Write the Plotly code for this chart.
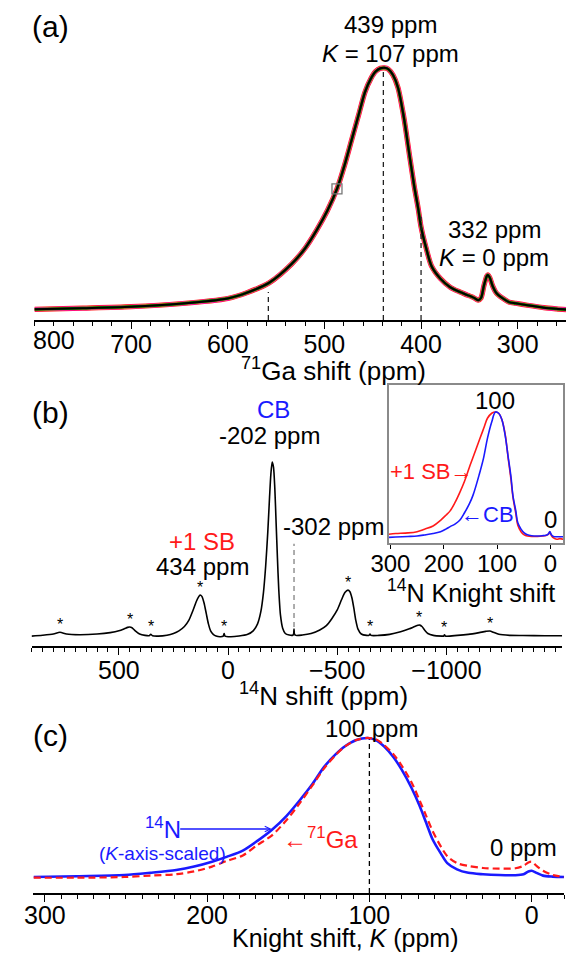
import plotly.graph_objects as go

W, H = 567, 954
FONT = "Liberation Sans, Arial, sans-serif"

# ---------------- Panel (a): 71Ga spectrum ----------------
ga_shift = [800, 750, 700, 650, 600, 580, 557, 534, 520, 508,
            497, 487, 479, 472, 465, 458, 452, 447, 442, 438,
            434, 429, 424, 418, 412, 407, 403, 400, 395, 389,
            380, 370, 360, 352, 345, 341, 338, 335, 332, 331,
            329, 326, 322, 316, 309, 302, 290, 273, 260, 250]
ga_intensity = [0.003, 0.008, 0.014, 0.026, 0.048, 0.072, 0.113, 0.19, 0.255, 0.33,
                0.41, 0.5, 0.6, 0.7, 0.8, 0.9, 0.955, 0.985, 0.998, 1.0,
                0.995, 0.97, 0.92, 0.8, 0.64, 0.51, 0.42, 0.343, 0.26, 0.18,
                0.13, 0.095, 0.075, 0.062, 0.05, 0.041, 0.05, 0.1, 0.14, 0.145,
                0.135, 0.1, 0.07, 0.05, 0.033, 0.028, 0.02, 0.01, 0.005, 0.002]
ga_marks = [558, 439, 400]
ga_mark_tops = [0.075, 1.0, 0.385]
ga_box_shift = [487]
ga_box_int = [0.5]
ga_ticks = [700, 600, 500, 400, 300]

# ---------------- Panel (b): 14N spectrum ----------------
n14_shift = [900, 850, 800, 770, 740, 680, 600, 540, 500, 475,
             460, 451, 440, 425, 405, 380, 362, 354, 346, 320,
             280, 250, 225, 200, 180, 160, 145, 135, 128, 120,
             110, 100, 90, 80, 68, 55, 35, 22, 18, 14,
             -10, -50, -90, -115, -135, -150, -162, -172, -182, -190,
             -196, -202, -208, -214, -220, -226, -232, -240, -250, -262,
             -280, -296, -300, -302, -304, -310, -340, -380, -420, -450,
             -475, -500, -520, -535, -549, -558, -567, -576, -585, -595,
             -610, -635, -645, -650, -655, -690, -740, -790, -830, -855,
             -870, -878, -888, -900, -915, -940, -980, -988, -991, -995,
             -1050, -1100, -1150, -1180, -1199, -1215, -1240, -1290, -1350, -1450,
             -1530]
n14_intensity = [0.0, 0.005, 0.012, 0.022, 0.012, 0.008, 0.012, 0.02, 0.03, 0.042,
                 0.05, 0.052, 0.048, 0.03, 0.012, 0.004, 0.002, 0.01, 0.002, 0.0,
                 0.005, 0.015, 0.03, 0.055, 0.09, 0.15, 0.2, 0.225, 0.236, 0.228,
                 0.19, 0.13, 0.07, 0.03, 0.01, 0.0, -0.004, 0.0, 0.014, 0.0,
                 -0.004, 0.0, 0.01, 0.03, 0.07, 0.14, 0.25, 0.4, 0.6, 0.8,
                 0.93, 1.0, 0.97, 0.85, 0.65, 0.45, 0.27, 0.12, 0.045, 0.015,
                 0.006, 0.005, 0.012, 0.04, 0.012, 0.004, 0.006, 0.015, 0.035, 0.06,
                 0.1, 0.15, 0.21, 0.25, 0.264, 0.255, 0.22, 0.16, 0.09, 0.04,
                 0.012, 0.004, 0.004, 0.012, 0.004, 0.004, 0.01, 0.025, 0.042, 0.055,
                 0.062, 0.063, 0.055, 0.035, 0.015, 0.004, 0.0, 0.0, 0.008, 0.0,
                 0.004, 0.01, 0.02, 0.027, 0.029, 0.022, 0.01, 0.004, 0.003, 0.002,
                 0.002]
n14_star_shift = [770, 451, 354, 128, 18, -549, -650, -876, -991, -1199]
n14_star_int = [0.022, 0.052, 0.01, 0.236, 0.014, 0.264, 0.012, 0.063, 0.008, 0.029]
n14_mark = -302
n14_mark_top = 0.53
n14_ticks = [500, 0, -500, -1000]

# ---------------- Inset: 14N Knight shift ----------------
inset_k = [303, 290, 267, 250, 236, 220, 206, 196, 188, 179,
           170, 161, 152, 145, 133, 125, 118, 110, 103, 97,
           91, 85, 79, 74, 70, 65, 61, 55, 49, 43,
           35, 24, 15, 8, 4, 1, -2, -6, -12, -18,
           -24]
inset_cb = [0.005, 0.008, 0.012, 0.016, 0.024, 0.035, 0.05, 0.07, 0.09, 0.11,
            0.14, 0.2, 0.27, 0.34, 0.51, 0.64, 0.79, 0.92, 1.0, 0.99,
            0.94, 0.82, 0.64, 0.49, 0.33, 0.22, 0.12, 0.07, 0.04, 0.025,
            0.018, 0.016, 0.018, 0.022, 0.03, 0.05, 0.025, 0.012, 0.01, 0.01,
            0.01]
inset_sb = [0.03, 0.035, 0.04, 0.05, 0.07, 0.095, 0.14, 0.18, 0.215, 0.28,
            0.36, 0.45, 0.56, 0.64, 0.78, 0.87, 0.95, 0.99, 1.0, 0.99,
            0.94, 0.83, 0.63, 0.47, 0.32, 0.2, 0.1, 0.05, 0.025, 0.016,
            0.012, 0.012, 0.015, 0.02, 0.028, 0.045, 0.02, 0.0, -0.01, -0.005,
            -0.01]
inset_ticks = [300, 200, 100, 0]

# ---------------- Panel (c): Knight shift comparison ----------------
knight_k = [307, 280, 251, 235, 219, 208, 197, 188, 178, 169,
            160, 151, 143, 135, 128, 121, 115, 108, 101, 96,
            91, 85, 80, 74, 69, 65, 61, 56, 52, 46,
            39, 30, 20, 10, 5, 2, 0, -3, -7, -13,
            -20]
knight_n14 = [0.0, 0.006, 0.014, 0.03, 0.05, 0.075, 0.11, 0.145, 0.19, 0.26,
              0.34, 0.44, 0.55, 0.67, 0.79, 0.88, 0.94, 0.985, 1.0, 0.985,
              0.94, 0.86, 0.77, 0.64, 0.51, 0.39, 0.27, 0.17, 0.1, 0.055,
              0.03, 0.02, 0.014, 0.013, 0.02, 0.04, 0.045, 0.03, 0.01, 0.003,
              0.0]
knight_ga = [-0.005, -0.005, 0.0, 0.01, 0.02, 0.04, 0.075, 0.115, 0.155, 0.23,
             0.3, 0.41, 0.53, 0.66, 0.78, 0.875, 0.94, 0.985, 1.0, 0.99,
             0.95, 0.88, 0.8, 0.68, 0.55, 0.44, 0.33, 0.22, 0.15, 0.1,
             0.08, 0.065, 0.06, 0.063, 0.08, 0.105, 0.11, 0.08, 0.045, 0.015,
             0.0]
knight_mark = 100
knight_ticks = [300, 200, 100, 0]

BLUE = "#1a1aff"
RED = "#ff1a1a"


def px_x(px):
    return px / W


def px_y(py):
    return 1 - py / H


fig = go.Figure()

# Panel (a) traces (overlapping fits)
for color, width in [(RED, 5.2), ("#ff00ff", 4.0), ("#e08000", 3.4), ("#008000", 2.8), ("black", 2.0)]:
    fig.add_trace(go.Scatter(x=ga_shift, y=ga_intensity, mode="lines",
                             line=dict(color=color, width=width, shape="spline", smoothing=0.8),
                             xaxis="x", yaxis="y", showlegend=False, hoverinfo="skip"))
for m, t in zip(ga_marks, ga_mark_tops):
    fig.add_trace(go.Scatter(x=[m, m], y=[-0.041, t], mode="lines",
                             line=dict(color="#222", width=1.3, dash="5px,4px"),
                             xaxis="x", yaxis="y", showlegend=False, hoverinfo="skip"))
fig.add_trace(go.Scatter(x=ga_box_shift, y=ga_box_int, mode="markers",
                         marker=dict(symbol="square-open", size=10, color="#777", line=dict(width=1.3)),
                         xaxis="x", yaxis="y", showlegend=False, hoverinfo="skip"))

# Panel (b)
fig.add_trace(go.Scatter(x=[n14_mark, n14_mark], y=[0, n14_mark_top], mode="lines",
                         line=dict(color="#777", width=1.2, dash="5px,4px"),
                         xaxis="x2", yaxis="y2", showlegend=False, hoverinfo="skip"))
fig.add_trace(go.Scatter(x=n14_shift, y=n14_intensity, mode="lines",
                         line=dict(color="black", width=1.6, shape="spline", smoothing=0.7),
                         xaxis="x2", yaxis="y2", showlegend=False, hoverinfo="skip"))

# Inset
fig.add_trace(go.Scatter(x=inset_k, y=inset_sb, mode="lines",
                         line=dict(color=RED, width=1.6, shape="spline", smoothing=1.0),
                         xaxis="x3", yaxis="y3", showlegend=False, hoverinfo="skip"))
fig.add_trace(go.Scatter(x=inset_k, y=inset_cb, mode="lines",
                         line=dict(color=BLUE, width=1.6, shape="spline", smoothing=1.0),
                         xaxis="x3", yaxis="y3", showlegend=False, hoverinfo="skip"))

# Panel (c)
fig.add_trace(go.Scatter(x=[knight_mark, knight_mark], y=[-0.115, 1.0], mode="lines",
                         line=dict(color="black", width=1.3, dash="5px,4px"),
                         xaxis="x4", yaxis="y4", showlegend=False, hoverinfo="skip"))
fig.add_trace(go.Scatter(x=knight_k, y=knight_n14, mode="lines",
                         line=dict(color=BLUE, width=2.6, shape="spline", smoothing=0.8),
                         xaxis="x4", yaxis="y4", showlegend=False, hoverinfo="skip"))
fig.add_trace(go.Scatter(x=knight_k, y=knight_ga, mode="lines",
                         line=dict(color=RED, width=2.2, dash="7px,4px", shape="spline", smoothing=0.8),
                         xaxis="x4", yaxis="y4", showlegend=False, hoverinfo="skip"))

TICKFONT = dict(family=FONT, size=25, color="black")
axis_common = dict(showgrid=False, zeroline=False, showline=True, linecolor="black", linewidth=1.5,
                   ticks="outside", tickcolor="black", tickwidth=1.3, ticklen=7,
                   ticklabelstandoff=-6, tickfont=TICKFONT)

hidden_y = dict(visible=False, showgrid=False, zeroline=False, fixedrange=True)
minor_style = dict(ticklen=4, tickwidth=1.1, ticks="outside", tickcolor="black", tick0=0)

fig.update_layout(
    width=W, height=H,
    margin=dict(l=0, r=0, t=0, b=0),
    paper_bgcolor="white", plot_bgcolor="white",
    font=dict(family=FONT, size=24, color="black"),
    xaxis=dict(axis_common, domain=[px_x(17), px_x(566)], range=[800, 250], anchor="y",
               tickvals=ga_ticks, minor=dict(minor_style, dtick=20)),
    yaxis=dict(hidden_y, domain=[px_y(320), 1.0], range=[-0.041, 1.28], anchor="x"),
    xaxis2=dict(axis_common, domain=[px_x(14), px_x(562)], range=[900, -1530], anchor="y2",
                tickvals=n14_ticks, minor=dict(minor_style, dtick=50)),
    yaxis2=dict(hidden_y, domain=[px_y(646), px_y(380)], range=[-0.057, 1.471], anchor="x2"),
    xaxis3=dict(showgrid=False, zeroline=False, showline=True, mirror=True, linecolor="#8a8a8a",
                linewidth=1.5, ticks="outside", tickcolor="black", tickwidth=1.2, ticklen=4,
                ticklabelstandoff=-6,
                tickvals=inset_ticks, tickfont=dict(family=FONT, size=24, color="black"),
                domain=[px_x(383), px_x(563)], range=[303, -24], anchor="y3"),
    yaxis3=dict(showgrid=False, zeroline=False, showline=True, mirror=True, linecolor="#8a8a8a",
                linewidth=1.5, showticklabels=False, ticks="",
                domain=[px_y(543), px_y(385)], range=[-0.04, 1.214], anchor="x3"),
    xaxis4=dict(axis_common, domain=[px_x(16), px_x(564)], range=[307, -20], anchor="y4",
                ticklabelstandoff=-8,
                tickvals=knight_ticks, minor=dict(minor_style, dtick=10)),
    yaxis4=dict(hidden_y, domain=[px_y(893), px_y(700)], range=[-0.115, 1.273], anchor="x4"),
)

annotations = []


def ann(text, px, py, size=24, color="black", xanchor="center", **kw):
    annotations.append(dict(text=text, x=px_x(px), y=px_y(py), xref="paper", yref="paper",
                            xanchor=xanchor, yanchor="middle", showarrow=False,
                            font=dict(family=FONT, size=size, color=color), **kw))


# Panel (a) labels
ann("(a)", 34, 26, size=30)
ann("439 ppm", 385, 25)
ann("<i>K</i> = 107 ppm", 385, 54)
ann("332 ppm", 492, 229)
ann("<i>K</i> = 0 ppm", 492, 257)
ann("<sup>71</sup>Ga shift (ppm)", 326, 369, size=26)
annotations.append(dict(text="800", x=800, y=px_y(340), xref="x", yref="paper", xanchor="left",
                        yanchor="middle", showarrow=False, xshift=-3, font=TICKFONT))

# Panel (b) labels
ann("(b)", 34, 413, size=30)
ann("CB", 264, 409, color=BLUE)
ann("-202 ppm", 260, 435)
ann("-302 ppm", 326, 526)
ann("+1 SB", 190, 541, color=RED)
ann("434 ppm", 191, 566)
ann("<sup>14</sup>N shift (ppm)", 315, 694, size=26)
for s, h in zip(n14_star_shift, n14_star_int):
    annotations.append(dict(text="*", x=s, y=h, xref="x2", yref="y2", xanchor="center",
                            yanchor="bottom", yshift=-3, showarrow=False,
                            font=dict(family=FONT, size=16, color="black")))

# Inset labels
ann("100", 493, 400)
ann("0", 550, 519)
ann("+1 SB\u2192", 427, 472, size=22, color=RED)
ann("\u2190CB", 485, 514, size=22, color=BLUE)
ann("<sup>14</sup>N Knight shift", 468, 591, size=25)

# Panel (c) labels
ann("(c)", 34, 735, size=30)
ann("100 ppm", 365, 728)
ann("0 ppm", 522, 847)
ann("<sup>14</sup>N", 150, 828, color=BLUE)
ann("(<i>K</i>-axis-scaled)", 149, 853, size=19, color=BLUE)
ann("\u2190<sup>71</sup>Ga", 312, 838, color=RED)
ann("Knight shift, <i>K</i> (ppm)", 338, 938, size=25)
annotations.append(dict(text="", x=px_x(262), y=px_y(829), xref="paper", yref="paper",
                        ax=-93, ay=0, axref="pixel", ayref="pixel", showarrow=True,
                        arrowhead=5, arrowsize=0.8, arrowwidth=1.4, arrowcolor=BLUE))

fig.update_layout(annotations=annotations)

fig.write_html("out.html", config={"displayModeBar": False},
               post_script="document.body.style.margin='0';document.body.style.overflow='hidden';")
